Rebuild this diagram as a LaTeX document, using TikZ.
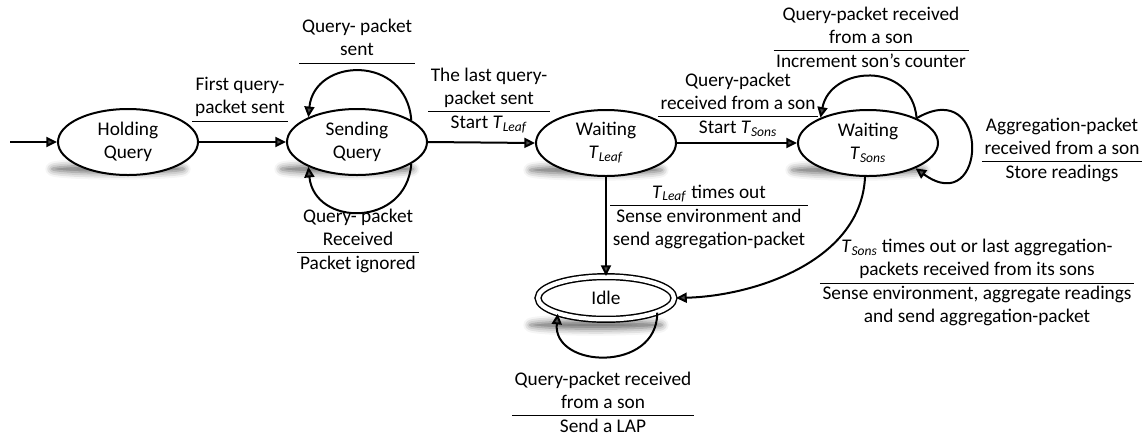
\documentclass[tikz,border=0pt]{standalone}
\usepackage{fontspec}
\setmainfont{Carlito}
\usetikzlibrary{shapes.geometric,arrows.meta,shadows.blur}
\newcommand\Tsb[1]{\textit{T}\textsubscript{\textit{#1}}}
\newcommand\trans[2]{\begin{tabular}{@{\hspace{2pt}}c@{\hspace{2pt}}}#1\\\hline #2\end{tabular}}
\newcommand\condonly[1]{\begin{tabular}{@{\hspace{2pt}}c@{\hspace{2pt}}}#1\\\hline\end{tabular}}
\setlength\arrayrulewidth{0.7pt}
\begin{document}
\begin{tikzpicture}[x=0.75pt,y=-0.75pt,
  font=\fontsize{14.5}{17.3}\selectfont,
  state/.style={ellipse, draw, line width=1.5pt, fill=white, minimum width=105pt, minimum height=49.5pt, inner sep=0pt, align=center},
  final/.style={ellipse, draw, line width=1.1pt, double=white, double distance=3.2pt, fill=white, minimum width=102pt, minimum height=32pt, inner sep=0pt, align=center},
  arr/.style={-{Triangle[length=8pt,width=7.5pt]}, line width=1.5pt},
  lbl/.style={inner sep=0pt},
  shd/.style={blur shadow={shadow xshift=0pt,shadow yshift=0pt,shadow blur radius=5pt,shadow opacity=60}}]
\useasboundingbox (0,0) rectangle (1142,437);
% shadows
\path[shd] (118,169) ellipse (66 and 4);
\path[shd] (347,169) ellipse (66 and 4);
\path[shd] (596,170) ellipse (66 and 4);
\path[shd] (858,170) ellipse (66 and 4);
\path[shd] (596,325) ellipse (66 and 4);
% states
\node[state] (hold) at (128,142) {Holding\\Query};
\node[state] (send) at (357,142) {Sending\\Query};
\node[state] (wleaf) at (606,143) {Waiting\\\Tsb{Leaf}};
\node[state] (wsons) at (868,143) {Waiting\\\Tsb{Sons}};
\node[final] (idle) at (606,298) {Idle};
\coordinate (init) at (10,142);
% transitions
\draw[arr] (init) -- (hold.west);
\draw[arr] (hold.east) -- (send.west);
\draw[arr] (send.east) -- (wleaf.west);
\draw[arr] (wleaf.east) -- (wsons.west);
\draw[arr] (wleaf.south) -- (idle.north);
\draw[arr] (send.22) .. controls +(-5,-66) and +(6,-60) .. (send.153);
\draw[arr] (send.-22) .. controls +(-5,64) and +(6,60) .. (send.-153);
\draw[arr] (wsons.27) .. controls +(-5,-58) and +(10,-52) .. (wsons.152);
\draw[arr] (wsons.27) .. controls +(75,-44) and +(72,52) .. (wsons.-28);
\draw[arr] (idle.-16) .. controls +(0,60) and +(-5,55) .. (idle.-162);
\draw[arr, shorten >=1pt] (wsons.-95) .. controls +(-4,84) and +(80,-2) .. (idle.east);
% labels
\node[lbl] (l1) at (240,98) {\condonly{First query-\\packet sent}};
\node[lbl] (l2) at (357,40) {\condonly{Query- packet\\sent}};
\node[lbl] (l3) at (358,241) {\trans{Query- packet\\Received}{Packet ignored}};
\node[lbl] (l4) at (489,100) {\trans{The last query-\\packet sent}{Start \Tsb{Leaf}}};
\node[lbl] (l5) at (738,105) {\trans{Query-packet\\received from a son}{Start \Tsb{Sons}}};
\node[lbl] (l6) at (871,39) {\trans{Query-packet received\\from a son}{Increment son’s counter}};
\node[lbl] (l7) at (1062,150) {\trans{Aggregation-packet\\received from a son}{Store readings}};
\node[lbl] (l8) at (709,217) {\trans{\Tsb{Leaf} times out}{Sense environment and\\send aggregation-packet}};
\node[lbl] (l9) at (977,283) {\trans{\Tsb{Sons} times out or last aggregation-\\packets received from its sons}{Sense environment, aggregate readings\\and send aggregation-packet}};
\node[lbl] (l10) at (603,404) {\trans{Query-packet received\\from a son}{Send a LAP}};
\end{tikzpicture}
\end{document}
